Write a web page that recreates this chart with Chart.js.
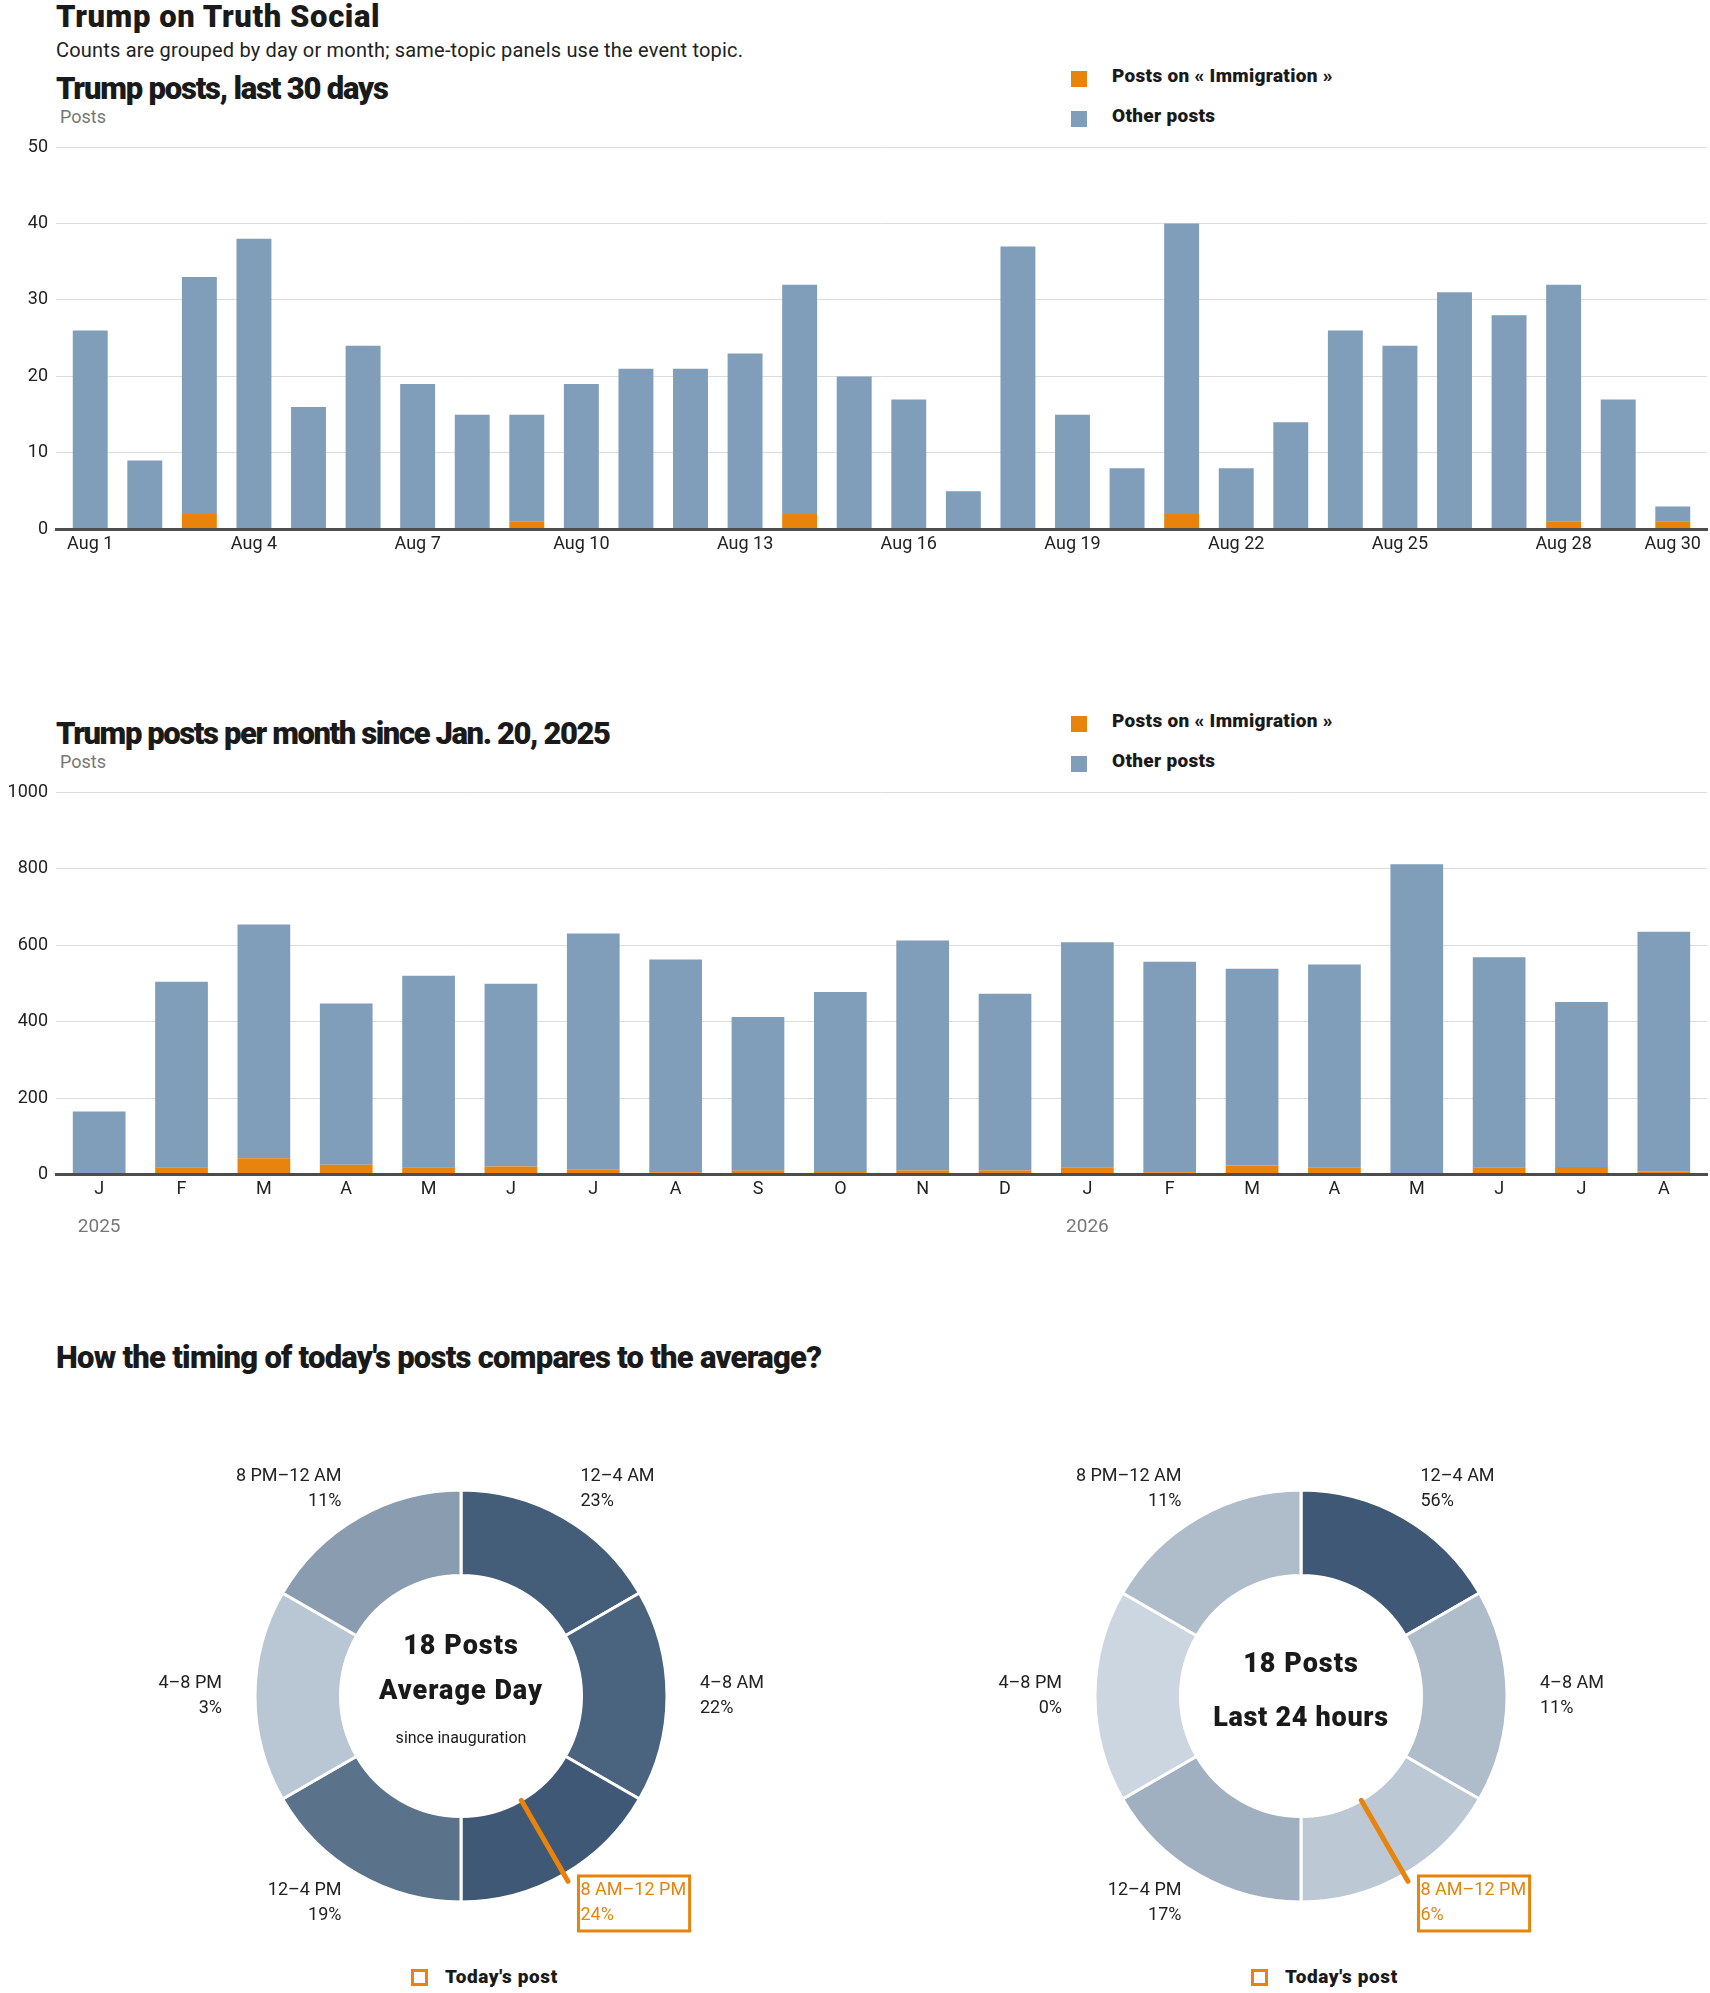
<!DOCTYPE html>
<html><head><meta charset="utf-8">
<script src="https://cdn.jsdelivr.net/npm/chart.js@4.4.1/dist/chart.umd.min.js"></script>
<style>
html,body{margin:0;padding:0;background:#fff}
body{position:relative;width:1710px;height:1993px;overflow:hidden;font-family:Roboto,"Open Sans",sans-serif;color:#222}
.a{position:absolute;white-space:nowrap;line-height:1}
.h{font-weight:900;font-size:31px;color:#1a1a1a;letter-spacing:-1px}
.sub{font-size:20px;color:#222;letter-spacing:0.2px}
.ax{font-size:18px;color:#777}
.lg{font-weight:900;font-size:19px;color:#1a1a1a;letter-spacing:0.3px}
.sq{position:absolute;width:16px;height:16px}
.tb{position:absolute;width:17px;height:17px;box-sizing:border-box;border:3px solid #e8830c}
canvas{position:absolute}
</style></head>
<body>
<div class="a h" style="left:56px;top:1px;letter-spacing:0.6px">Trump on Truth Social</div>
<div class="a sub" style="left:56px;top:40px">Counts are grouped by day or month; same-topic panels use the event topic.</div>

<div class="a h" style="left:56px;top:73px;letter-spacing:-1.2px">Trump posts, last 30 days</div>
<div class="a ax" style="left:60px;top:108px">Posts</div>
<div class="sq" style="left:1071px;top:71px;background:#e8830c"></div>
<div class="a lg" style="left:1112px;top:66px">Posts on « Immigration »</div>
<div class="sq" style="left:1071px;top:111px;background:#809db9"></div>
<div class="a lg" style="left:1112px;top:106px">Other posts</div>
<canvas id="c1" width="1710" height="446" style="left:0;top:117px"></canvas>

<div class="a h" style="left:56px;top:718px;letter-spacing:-1.4px">Trump posts per month since Jan. 20, 2025</div>
<div class="a ax" style="left:60px;top:753px">Posts</div>
<div class="sq" style="left:1071px;top:716px;background:#e8830c"></div>
<div class="a lg" style="left:1112px;top:711px">Posts on « Immigration »</div>
<div class="sq" style="left:1071px;top:756px;background:#809db9"></div>
<div class="a lg" style="left:1112px;top:751px">Other posts</div>
<canvas id="c2" width="1710" height="492" style="left:0;top:762px"></canvas>

<div class="a h" style="left:56px;top:1342px;letter-spacing:-0.75px">How the timing of today's posts compares to the average?</div>
<canvas id="d1" width="640" height="480" style="left:141px;top:1456px"></canvas>
<canvas id="d2" width="640" height="480" style="left:981px;top:1456px"></canvas>
<div class="tb" style="left:411px;top:1969px"></div>
<div class="a lg" style="left:445px;top:1967px;letter-spacing:0.6px">Today's post</div>
<div class="tb" style="left:1251px;top:1969px"></div>
<div class="a lg" style="left:1285px;top:1967px;letter-spacing:0.6px">Today's post</div>

<script>
// ---------- DATA ----------
const dayLabels = ['Aug 1','Aug 2','Aug 3','Aug 4','Aug 5','Aug 6','Aug 7','Aug 8','Aug 9','Aug 10',
  'Aug 11','Aug 12','Aug 13','Aug 14','Aug 15','Aug 16','Aug 17','Aug 18','Aug 19','Aug 20',
  'Aug 21','Aug 22','Aug 23','Aug 24','Aug 25','Aug 26','Aug 27','Aug 28','Aug 29','Aug 30'];
const dayImmigration = [0,0,2,0,0,0,0,0,1,0, 0,0,0,2,0,0,0,0,0,0, 2,0,0,0,0,0,0,1,0,1];
const dayOther       = [26,9,31,38,16,24,19,15,14,19, 21,21,23,30,20,17,5,37,15,8, 38,8,14,26,24,31,28,31,17,2];

const monthLabels = ['J','F','M','A','M','J','J','A','S','O','N','D','J','F','M','A','M','J','J','A'];
const monthYears  = ['2025','','','','','','','','','','','','2026','','','','','','',''];
const monthImmigration = [0,19,43,26,19,21,13,6,10,7,11,11,18,6,24,18,0,18,20,8];
const monthOther       = [165,485,611,421,501,478,617,556,402,470,601,462,589,550,514,531,811,550,431,627];

const slotLabels = ['12–4 AM','4–8 AM','8 AM–12 PM','12–4 PM','4–8 PM','8 PM–12 AM'];
const slotHours  = [4,4,4,4,4,4];
const avgDayPct  = [23,22,24,19,3,11];
const last24Pct  = [56,11,6,17,0,11];
const avgDayPosts = 18;
const last24Posts = 18;
const todayPostHour = 10;

// ---------- STYLE ----------
const ORANGE = '#e8830c', BLUE = '#809db9';
const FAM = 'Roboto, "Open Sans", sans-serif';
Chart.defaults.font.family = FAM;
Chart.defaults.color = '#222';

function barChart(id, labels, imm, other, yMax, yStep, outerPx, tickFilter, extraX) {
  const padFix = (scale) => {
    const n = scale.getLabels().length;
    const step = (scale.right - scale.left) / n;
    if (!step) return;
    const e = outerPx / step;
    scale._startValue -= e;
    scale._valueRange += 2 * e;
  };
  const scales = {
    x: {
      stacked: true, offset: true, z: 1,
      grid: { display: false, drawTicks: false },
      border: { display: true, color: '#4d4d4d', width: 3, z: 1 },
      ticks: { autoSkip: false, maxRotation: 0, padding: 4, color: '#222', font: { size: 18 },
        callback: function(v, i) { return tickFilter(i, labels.length) ? this.getLabelForValue(v) : ''; } },
      afterBuildTicks: padFix
    },
    y: {
      stacked: true, min: 0, max: yMax,
      ticks: { stepSize: yStep, padding: 8, color: '#222', font: { size: 18 }, callback: (v) => String(v) },
      grid: { color: '#dcdcdc', drawTicks: false, lineWidth: 1 },
      border: { display: false },
      afterFit: (s) => { s.width = 56; }
    }
  };
  if (extraX) {
    scales.x2 = {
      type: 'category', labels: extraX, offset: true, position: 'bottom',
      grid: { display: false, drawTicks: false }, border: { display: false },
      ticks: { autoSkip: false, maxRotation: 0, padding: 12, color: '#777', font: { size: 19 } },
      afterBuildTicks: padFix
    };
  }
  return new Chart(document.getElementById(id), {
    type: 'bar',
    data: { labels: labels, datasets: [
      { label: 'Posts on « Immigration »', data: imm, backgroundColor: ORANGE, categoryPercentage: 1, barPercentage: 0.64 },
      { label: 'Other posts', data: other, backgroundColor: BLUE, categoryPercentage: 1, barPercentage: 0.64 }
    ]},
    options: {
      responsive: false, animation: false,
      layout: { padding: { top: 30, right: 3, bottom: extraX ? 3 : 4, left: 0 } },
      plugins: { legend: { display: false }, tooltip: { enabled: false } },
      scales: scales
    }
  });
}

barChart('c1', dayLabels, dayImmigration, dayOther, 50, 10, 7,
  (i, n) => i % 3 === 0 || i === n - 1, null);
barChart('c2', monthLabels, monthImmigration, monthOther, 1000, 200, 2,
  () => true, monthYears);

// ---------- DONUTS ----------
function shade(t) {
  const a = [0xcb, 0xd6, 0xe0], b = [0x3e, 0x58, 0x75];
  return 'rgb(' + a.map((v, k) => Math.round(v + (b[k] - v) * t)).join(',') + ')';
}
const donutDecor = {
  id: 'donutDecor',
  afterDatasetsDraw(chart, args, o) {
    const ctx = chart.ctx;
    const arcs = chart.getDatasetMeta(0).data;
    const g = arcs[0].getProps(['x', 'y', 'innerRadius', 'outerRadius'], true);
    const cx = g.x, cy = g.y, r = g.innerRadius, R = g.outerRadius;
    let acc = 0, hl = -1;
    slotHours.forEach((h, i) => { if (o.hour >= acc && o.hour < acc + h) hl = i; acc += h; });
    ctx.save();
    // today's post marker
    const a = -Math.PI / 2 + o.hour / acc * 2 * Math.PI;
    ctx.strokeStyle = ORANGE; ctx.lineWidth = 5; ctx.lineCap = 'round';
    ctx.beginPath();
    ctx.moveTo(cx + Math.cos(a) * r, cy + Math.sin(a) * r);
    ctx.lineTo(cx + Math.cos(a) * (R + 8), cy + Math.sin(a) * (R + 8));
    ctx.stroke();
    // slot labels
    ctx.font = '18px ' + FAM;
    ctx.textBaseline = 'middle';
    arcs.forEach((arc, i) => {
      const p = arc.getProps(['startAngle', 'endAngle'], true);
      const m = (p.startAngle + p.endAngle) / 2;
      const lx = cx + Math.cos(m) * (R + 33), ly = cy + Math.sin(m) * (R + 33);
      const left = Math.cos(m) > 0.01;
      ctx.textAlign = left ? 'left' : 'right';
      const l1 = chart.data.labels[i], l2 = o.pct[i] + '%';
      ctx.fillStyle = i === hl ? ORANGE : '#222';
      ctx.fillText(l1, lx, ly - 12.5);
      ctx.fillText(l2, lx, ly + 12.5);
      if (i === hl) {
        const w = Math.max(ctx.measureText(l1).width, ctx.measureText(l2).width);
        const bx = left ? lx : lx - w;
        ctx.lineWidth = 3; ctx.strokeStyle = ORANGE;
        ctx.strokeRect(bx - 2, ly - 27, w + 5.5, 55);
      }
    });
    // center text
    ctx.textAlign = 'center';
    ctx.fillStyle = '#1a1a1a';
    o.center.forEach(c => {
      ctx.font = c[1];
      try { ctx.letterSpacing = c[3] || '0px'; } catch (e) {}
      ctx.fillText(c[0], cx, cy + c[2]);
    });
    ctx.restore();
  }
};
function donut(id, pct, center) {
  const max = Math.max(...pct);
  return new Chart(document.getElementById(id), {
    type: 'doughnut',
    data: { labels: slotLabels, datasets: [{
      data: slotHours,
      backgroundColor: pct.map(p => shade(p / max)),
      borderColor: '#fff', borderWidth: 3
    }]},
    options: {
      responsive: false, animation: false, radius: 206, cutout: '58.5%',
      plugins: { legend: { display: false }, tooltip: { enabled: false },
        donutDecor: { pct: pct, hour: todayPostHour, center: center } }
    },
    plugins: [donutDecor]
  });
}
const bold27 = '900 27px ' + FAM;
donut('d1', avgDayPct, [
  [avgDayPosts + ' Posts', bold27, -49, '1px'],
  ['Average Day', bold27, -4, '1px'],
  ['since inauguration', '16px ' + FAM, 43, '0px']
]);
donut('d2', last24Pct, [
  [last24Posts + ' Posts', bold27, -31, '1px'],
  ['Last 24 hours', bold27, 23, '0.7px']
]);
</script>
</body></html>
